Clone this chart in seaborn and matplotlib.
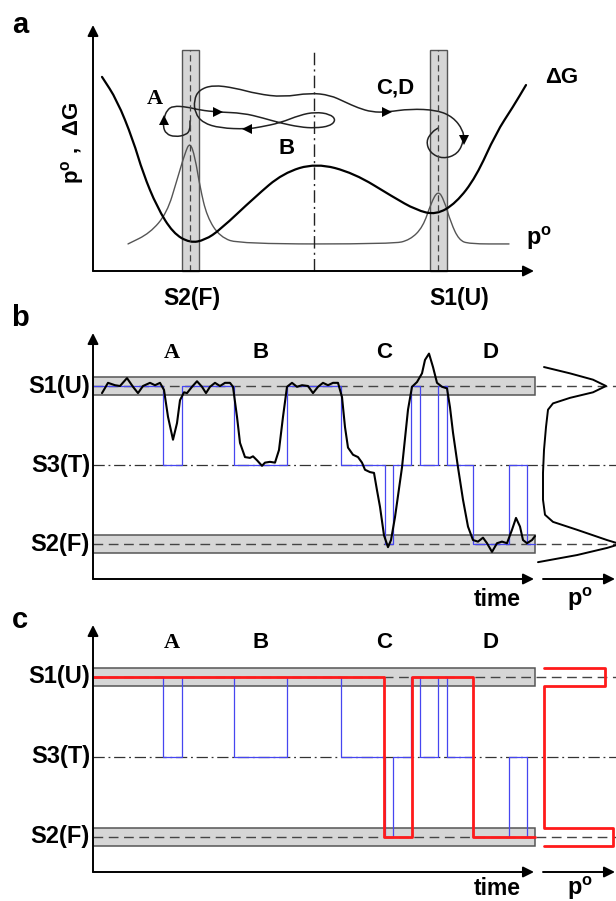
import numpy as np
import seaborn as sns
import matplotlib.pyplot as plt
from matplotlib.path import Path
from matplotlib.patches import PathPatch, Rectangle

sns.set_style("white")
plt.rcParams['font.family'] = ['Liberation Sans', 'DejaVu Sans']
plt.rcParams['mathtext.fontset'] = 'custom'
plt.rcParams['mathtext.rm'] = 'Liberation Sans'
plt.rcParams['mathtext.bf'] = 'Liberation Sans:bold'

# ---------------- data ----------------
# panel a: reaction coordinate q (arbitrary units), value (arbitrary units)
dg_q = [9, 24, 40, 50, 64, 80, 97, 112, 127, 162, 190, 223, 261, 300, 323, 343, 363, 383, 403, 420, 433]
dg_v = [0.789, 0.695, 0.533, 0.398, 0.260, 0.154, 0.114, 0.126, 0.167, 0.301, 0.398, 0.439,
        0.398, 0.301, 0.248, 0.228, 0.276, 0.382, 0.561, 0.667, 0.756]

po_q = [35, 57, 74, 84, 92, 97, 102, 107, 114, 127, 147, 300, 317, 330, 338, 345, 351, 358, 366, 376, 416]
po_v = [0.110, 0.154, 0.236, 0.370, 0.480, 0.525, 0.463, 0.341, 0.220, 0.138, 0.110, 0.110, 0.126,
        0.179, 0.276, 0.328, 0.289, 0.195, 0.126, 0.110, 0.110]

traj_q = [97, 97, 93, 82, 73, 70, 71, 74, 80, 94, 107, 125, 150, 170, 187, 207, 222, 237, 243, 237,
          222, 207, 187, 167, 154, 127, 110, 102, 101, 106, 120, 142, 164, 190, 217, 237, 252, 265,
          279, 294, 317, 344, 360, 370, 371, 365, 350, 337, 333, 339, 345]
traj_v = [0.610, 0.573, 0.553, 0.545, 0.557, 0.589, 0.622, 0.654, 0.671, 0.667, 0.654, 0.646, 0.642,
          0.622, 0.602, 0.585, 0.581, 0.589, 0.614, 0.638, 0.646, 0.634, 0.602, 0.585, 0.577, 0.581,
          0.602, 0.642, 0.695, 0.736, 0.756, 0.744, 0.720, 0.707, 0.724, 0.715, 0.687, 0.663, 0.646,
          0.646, 0.659, 0.654, 0.626, 0.573, 0.533, 0.476, 0.455, 0.480, 0.528, 0.565, 0.581]
arrow_q = [71, 125, 154, 294, 371]
arrow_v = [0.614, 0.646, 0.577, 0.646, 0.533]
arrow_dir = ['^', '>', '<', '>', 'v']

state_q = {'S2(F)': 97, 'TS': 221, 'S1(U)': 345}

# panels b, c: time (arbitrary units), state level S2=0, S3=1, S1=2
levels = {'S1(U)': 2, 'S3(T)': 1, 'S2(F)': 0}

curve_t = [9, 15, 22, 27, 34, 40, 45, 50, 57, 62, 67, 71, 75, 80, 84, 87, 91, 94, 99, 104, 109, 113,
           117, 122, 127, 132, 137, 140, 144, 147, 152, 157, 160, 164, 169, 172, 177, 182, 186, 190,
           194, 199, 204, 209, 215, 220, 225, 230, 235, 240, 245, 249, 252, 255, 260, 265, 269, 272,
           277, 281, 284, 287, 291, 295, 298, 302, 309, 315, 319, 324, 329, 332, 336, 340, 344, 349,
           354, 357, 360, 365, 370, 375, 380, 385, 390, 394, 399, 404, 409, 414, 419, 423, 427, 430,
           434, 439, 442]
curve_s = [1.91, 2.04, 2.01, 2.00, 2.10, 1.99, 1.91, 2.00, 2.04, 2.01, 2.04, 1.95, 1.61, 1.32, 1.53,
           1.82, 1.92, 1.91, 1.99, 2.06, 1.99, 1.91, 1.99, 2.04, 2.00, 2.04, 2.04, 1.99, 1.61, 1.28,
           1.10, 1.09, 1.11, 1.06, 0.99, 1.03, 1.04, 1.03, 1.19, 1.61, 1.99, 2.04, 1.99, 2.01, 2.00,
           1.91, 1.99, 2.04, 2.01, 2.04, 2.04, 1.86, 1.48, 1.22, 1.13, 1.10, 1.03, 0.94, 0.91, 0.90,
           0.68, 0.47, 0.11, -0.04, 0.05, 0.34, 0.97, 1.70, 1.99, 2.05, 2.16, 2.33, 2.41, 2.24, 2.04,
           1.99, 1.97, 1.73, 1.41, 0.97, 0.56, 0.22, 0.05, 0.03, 0.08, 0.01, -0.10, 0.01, 0.03, 0.01,
           0.18, 0.33, 0.22, 0.05, 0.01, 0.05, 0.10]

blue_t = [0, 70, 89, 141, 194, 248, 292, 300, 318, 327, 345, 354, 380, 416, 434, 442]
blue_s = [2, 1, 2, 1, 2, 1, 0, 1, 2, 1, 2, 1, 0, 1, 0, 0]

red_t = [0, 291, 319, 380, 442]
red_s = [2, 0, 2, 0, 0]

# side distributions p(state)
po_b_s = [2.24, 2.16, 2.08, 2.00, 1.92, 1.85, 1.78, 1.70, 1.48, 1.19, 0.90, 0.56, 0.37, 0.28, 0.18,
          0.05, 0.00, -0.05, -0.14, -0.23]
po_b_p = [1, 27, 50, 63, 50, 27, 10, 5, 3, 1, 0, 0, 2, 10, 34, 64, 77, 64, 34, -5]
po_c_states = [2, 0]
po_c_p = [62, 70]

# ---------------- layout helpers ----------------
W, H = 616, 901
fig = plt.figure(figsize=(W / 100, H / 100), dpi=100)


def panel(top, bottom, ylo, yhi):
    ax = fig.add_axes([0, 1 - bottom / H, 1, (bottom - top) / H])
    ax.set_xlim(-93, 523)
    ax.set_ylim(ylo, yhi)
    ax.axis('off')
    return ax


def smooth(ax, xs, ys, **kw):
    pts = np.column_stack([xs, ys]).astype(float)
    mids = (pts[:-1] + pts[1:]) / 2
    verts, codes = [pts[0], mids[0]], [Path.MOVETO, Path.LINETO]
    for i in range(1, len(pts) - 1):
        verts += [pts[i], mids[i]]
        codes += [Path.CURVE3, Path.CURVE3]
    verts.append(pts[-1])
    codes.append(Path.LINETO)
    ax.add_patch(PathPatch(Path(verts, codes), fill=False, capstyle='round', **kw))


def arrow(ax, start, end):
    ax.annotate('', xy=end, xytext=start,
                arrowprops=dict(arrowstyle='-|>', color='black', lw=1.4,
                                mutation_scale=16, shrinkA=0, shrinkB=0))


bold = dict(fontweight='bold', color='black')
DASH = (0, (7, 4))
DASHDOT = (0, (9, 3, 1.5, 3))
BAND_FC, BAND_EC = '#d6d6d6', '#555555'
LBL = 16

# ---------------- panel a ----------------
ax = panel(0, 300, (271 - 300) / 246, 271 / 246)
top_a = (271 - 50) / 246
for key in ['S2(F)', 'S1(U)']:
    c = state_q[key]
    ax.add_patch(Rectangle((c - 8.5, 0), 17, top_a, fc=BAND_FC, ec=BAND_EC, lw=1))
    ax.plot([c, c], [0, top_a], color='#444444', lw=0.9, ls=(0, (5, 3)))
ax.plot([state_q['TS']] * 2, [0, top_a], color='#222222', lw=1, ls=DASHDOT)

smooth(ax, po_q, po_v, ec='#555555', lw=1.0)
smooth(ax, dg_q, dg_v, ec='black', lw=1.6)
smooth(ax, traj_q, traj_v, ec='#222222', lw=1.1)
for q, v, m in zip(arrow_q, arrow_v, arrow_dir):
    ax.plot(q, v, marker=m, color='black', ms=7, mew=0)

arrow(ax, (0, 0), (0, 1.0))
arrow(ax, (0, 0), (441, 0))

ax.text(-73, 1.0, 'a', fontsize=21, ha='center', va='center', **bold)
ax.text(-21, 0.52, r'p$^{\mathbf{o}}$ ,  ΔG', rotation=90, fontsize=16, ha='center', va='center', **bold)
ax.text(62, 0.70, 'A', family='Liberation Serif', fontsize=16, ha='center', va='center', **bold)
ax.text(194, 0.50, 'B', fontsize=LBL, ha='center', va='center', **bold)
ax.text(302, 0.745, 'C,D', fontsize=LBL, ha='center', va='center', **bold)
ax.text(469, 0.785, 'ΔG', fontsize=LBL, ha='center', va='center', **bold)
ax.text(446, 0.135, r'p$^{\mathbf{o}}$', fontsize=17, ha='center', va='center', **bold)
ax.text(99, -0.11, 'S2(F)', fontsize=16.5, ha='center', va='center', **bold)
ax.text(366, -0.11, 'S1(U)', fontsize=16.5, ha='center', va='center', **bold)


# ---------------- panels b and c ----------------
def state_panel(ax, letter, y_letter, y_abc, y_axis, y_top, y_time):
    for key in ['S1(U)', 'S2(F)']:
        s = levels[key]
        ax.add_patch(Rectangle((0, s - 0.11), 442, 0.22, fc=BAND_FC, ec=BAND_EC, lw=1.1))
        ax.plot([0, 523], [s, s], color='#444444', lw=1, ls=DASH)
    ax.plot([0, 523], [levels['S3(T)']] * 2, color='#333333', lw=0.9, ls=DASHDOT)
    sns.lineplot(x=blue_t, y=blue_s, ax=ax, color='#4646f0', lw=0.9,
                 drawstyle='steps-post', sort=False, estimator=None)
    arrow(ax, (0, y_axis), (0, y_top))
    arrow(ax, (0, y_axis), (441, y_axis))
    arrow(ax, (450, y_axis), (522, y_axis))
    for key, s in levels.items():
        ax.text(-3, s, key, fontsize=17, ha='right', va='center', **bold)
    ax.text(-73, y_letter, letter, fontsize=21, ha='center', va='center', **bold)
    ax.text(79, y_abc, 'A', family='Liberation Serif', fontsize=16, ha='center', va='center', **bold)
    for lab, t in zip(['B', 'C', 'D'], [168, 291, 397]):
        ax.text(t, y_abc, lab, fontsize=LBL, ha='center', va='center', **bold)
    ax.text(404, y_time, 'time', fontsize=16.5, ha='center', va='center', **bold)
    ax.text(487, y_time, r'p$^{\mathbf{o}}$', fontsize=17, ha='center', va='center', **bold)


axb = panel(300, 610, (544 - 610) / 79, (544 - 300) / 79)
state_panel(axb, 'b', 2.86, 2.42, (544 - 579) / 79, (544 - 333) / 79, -0.70)
sns.lineplot(x=curve_t, y=curve_s, ax=axb, color='black', lw=1.5, sort=False, estimator=None)
po_origin = 450
axb.plot(po_origin + np.array(po_b_p), po_b_s, color='black', lw=1.4)

axc = panel(610, 901, (837 - 901) / 80, (837 - 610) / 80)
state_panel(axc, 'c', 2.71, 2.425, (837 - 872) / 80, (837 - 625) / 80, -0.64)
sns.lineplot(x=red_t, y=red_s, ax=axc, color='#ff1a1a', lw=2.0,
             drawstyle='steps-post', sort=False, estimator=None)
hx, hy = [], []
for s, p in zip(po_c_states, po_c_p):
    hx += [po_origin + 1, po_origin + p, po_origin + p, po_origin + 1]
    hy += [s + 0.11, s + 0.11, s - 0.11, s - 0.11]
axc.plot(hx, hy, color='#ff1a1a', lw=2.0)

for a in (axb, axc):
    leg = a.get_legend()
    if leg:
        leg.remove()

fig.savefig('out.png', dpi=100)
